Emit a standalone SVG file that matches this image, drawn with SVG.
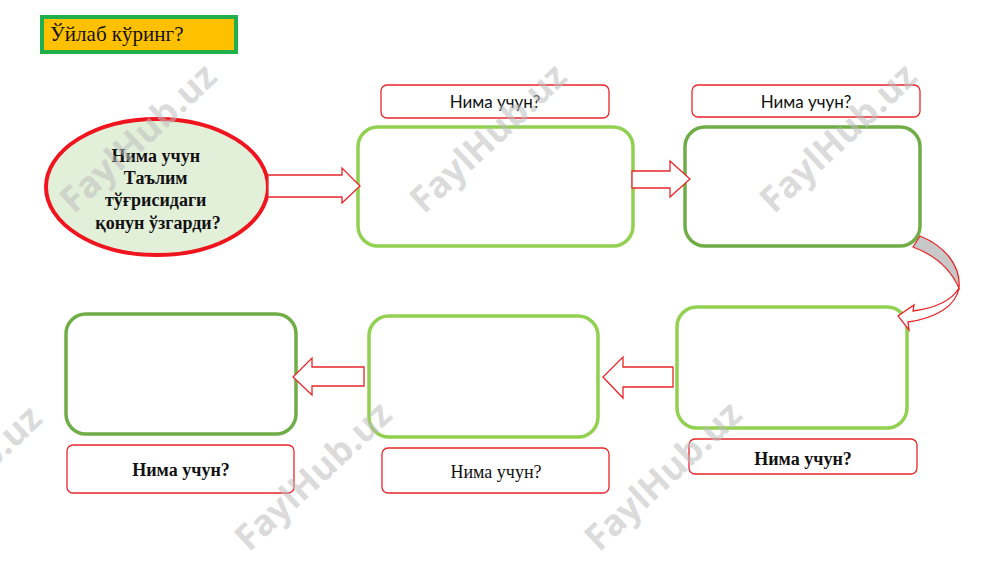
<svg xmlns="http://www.w3.org/2000/svg" width="1000" height="562" viewBox="0 0 1000 562">
<style>
.box{fill:#ffffff;stroke-width:3.5}
.lg{stroke:#92d050}
.dg{stroke:#70ad47}
.lbl{fill:#ffffff;stroke:#e8262a;stroke-width:1.3}
.arr{fill:#ffffff;stroke:#e8262a;stroke-width:1.3;stroke-linejoin:miter}
.sans{font-family:Lato,"Open Sans","Liberation Sans",sans-serif;font-size:17px;fill:#111}
.serif{font-family:"Liberation Serif","Times New Roman",serif;font-size:18px;fill:#111}
.b{font-weight:bold}
.wm{font-family:"Open Sans","Liberation Sans",sans-serif;font-weight:bold;font-size:36px;fill:#bdbdbd;fill-opacity:0.55}
</style>
<rect width="1000" height="562" fill="#ffffff"/>

<g id="title">
<rect x="42" y="17" width="194" height="35" fill="#ffc000" stroke="#1faf4b" stroke-width="4"/>
<text x="50" y="41" class="serif" style="font-size:21px">Ўйлаб кўринг?</text>
</g>

<g id="start">
<ellipse cx="157" cy="187" rx="111" ry="68" fill="#e2efd9" stroke="#f0141e" stroke-width="4"/>
<text class="serif b" text-anchor="middle">
<tspan x="158" y="162">Нима учун</tspan>
<tspan x="158" y="184">Таълим</tspan>
<tspan x="158" y="206">тўғрисидаги</tspan>
<tspan x="158" y="229">қонун ўзгарди?</tspan>
</text>
</g>

<g id="box1">
<rect x="358" y="127" width="275" height="119" rx="20" class="box lg"/>
</g>
<g id="label1">
<rect x="381" y="85" width="228" height="33" rx="6" class="lbl"/>
<text x="495" y="108" class="sans" text-anchor="middle">Нима учун?</text>
</g>

<g id="box2">
<rect x="685" y="127" width="235" height="119" rx="20" class="box dg"/>
</g>
<g id="label2">
<rect x="692" y="85" width="228" height="32" rx="6" class="lbl"/>
<text x="806" y="108" class="sans" text-anchor="middle">Нима учун?</text>
</g>

<g id="box3">
<rect x="677" y="307" width="230" height="121" rx="20" class="box lg"/>
</g>
<g id="label3">
<rect x="689" y="439" width="228" height="35" rx="6" class="lbl"/>
<text x="803" y="465" class="serif b" text-anchor="middle">Нима учун?</text>
</g>

<g id="box4">
<rect x="369" y="316" width="229" height="121" rx="20" class="box lg"/>
</g>
<g id="label4">
<rect x="382" y="448" width="227" height="45" rx="6" class="lbl"/>
<text x="496" y="478" class="serif" text-anchor="middle">Нима учун?</text>
</g>

<g id="box5">
<rect x="66" y="314" width="230" height="120" rx="20" class="box dg"/>
</g>
<g id="label5">
<rect x="67" y="445" width="227" height="48" rx="6" class="lbl"/>
<text x="181" y="476" class="serif b" text-anchor="middle">Нима учун?</text>
</g>

<g id="connectors">
<path class="arr" d="M268,175 L342,175 L342,168 L360,186 L342,203 L342,197 L268,197 Z"/>
<path class="arr" d="M632,171 L670,171 L670,161 L690,179 L670,197 L670,188 L632,188 Z"/>
<path d="M913,247 L920,236 C945,246 961,266 959,288 C950,268 935,255 913,247 Z" fill="#c8c8c8" stroke="#e8262a" stroke-width="1.3"/>
<path class="arr" d="M959,288 C952,300 936,308 913,311 L914,305 L898,316 L909,330 L908,322 C936,318 956,306 959,288 Z"/>
<path class="arr" d="M673,367 L623,367 L623,357 L603,377 L623,398 L623,387 L673,387 Z"/>
<path class="arr" d="M364,367 L312,367 L312,358 L293,377 L312,395 L312,386 L364,386 Z"/>
</g>

<g id="watermarks">
<text class="wm" text-anchor="middle" dominant-baseline="middle" transform="translate(140,140) rotate(-43)">FaylHub.uz</text>
<text class="wm" text-anchor="middle" dominant-baseline="middle" transform="translate(490,140) rotate(-43)">FaylHub.uz</text>
<text class="wm" text-anchor="middle" dominant-baseline="middle" transform="translate(840,140) rotate(-43)">FaylHub.uz</text>
<text class="wm" text-anchor="middle" dominant-baseline="middle" transform="translate(-35,482) rotate(-43)">FaylHub.uz</text>
<text class="wm" text-anchor="middle" dominant-baseline="middle" transform="translate(315,478) rotate(-43)">FaylHub.uz</text>
<text class="wm" text-anchor="middle" dominant-baseline="middle" transform="translate(665,478) rotate(-43)">FaylHub.uz</text>
</g>
</svg>
